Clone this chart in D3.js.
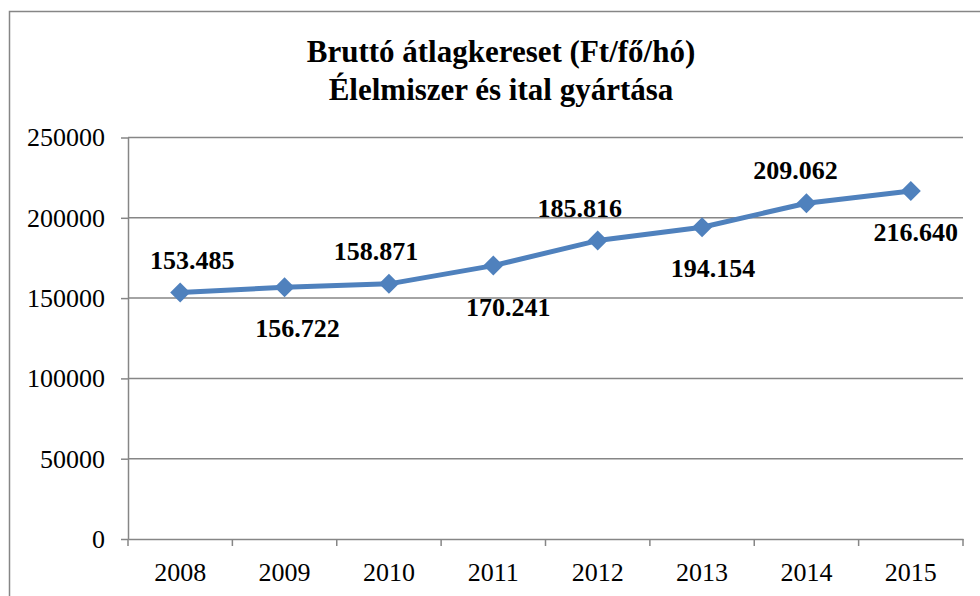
<!DOCTYPE html>
<html>
<head>
<meta charset="utf-8">
<script src="https://cdn.jsdelivr.net/npm/d3@7"></script>
<style>
  body { margin: 0; background: #fff; }
  svg { display: block; font-family: "Liberation Serif", "Times New Roman", serif; }
  .axis path, .axis line { stroke: #868686; stroke-width: 1.5; }
  .axis text { font-size: 26px; fill: #000; font-family: "Liberation Serif", serif; }
</style>
</head>
<body>
<svg width="980" height="596"></svg>
<script>
// chart data
var years = ['2008', '2009', '2010', '2011', '2012', '2013', '2014', '2015'];
var wages = [153485, 156722, 158871, 170241, 185816, 194154, 209062, 216640];
var labelText = ['153.485', '156.722', '158.871', '170.241', '185.816', '194.154', '209.062', '216.640'];
var yTicks = [0, 50000, 100000, 150000, 200000, 250000];
var titleLines = ['Bruttó átlagkereset (Ft/fő/hó)', 'Élelmiszer és ital gyártása'];

// label placement (side of the point and small horizontal nudge)
var labelSide = ['above', 'below', 'above', 'below', 'above', 'below', 'above', 'below'];
var labelNudge = [12, 13, -13, 15, -18, 11, -11, 5];

var svg = d3.select('svg');

// outer chart border
svg.append('rect')
    .attr('x', 9.5)
    .attr('y', 11.5)
    .attr('width', 990)
    .attr('height', 600)
    .attr('fill', 'none')
    .attr('stroke', '#868686')
    .attr('stroke-width', 1.5);

// title
svg.append('g').selectAll('text')
    .data(titleLines)
    .enter().append('text')
    .attr('x', 501)
    .attr('y', function(d, i) { return 62 + i * 38; })
    .attr('text-anchor', 'middle')
    .attr('font-size', 31)
    .attr('font-weight', 'bold')
    .text(function(d) { return d; });

var padding = {t: 137.5, l: 128, r: 963, b: 539};

var xScale = d3.scaleBand()
    .domain(years)
    .range([padding.l, padding.r]);

var yScale = d3.scaleLinear()
    .domain([0, 250000])
    .range([padding.b, padding.t]);

// gridlines
svg.append('g').selectAll('line')
    .data(yTicks.filter(function(t) { return t > 0; }))
    .enter().append('line')
    .attr('x1', padding.l)
    .attr('x2', padding.r)
    .attr('y1', function(d) { return yScale(d); })
    .attr('y2', function(d) { return yScale(d); })
    .attr('stroke', '#868686')
    .attr('stroke-width', 1.5);

// y axis
var yAxisG = svg.append('g')
    .attr('class', 'axis')
    .attr('transform', 'translate(' + [padding.l, 0] + ')')
    .call(d3.axisLeft(yScale)
        .tickValues(yTicks)
        .tickFormat(d3.format('d'))
        .tickSize(7)
        .tickPadding(16)
        .tickSizeOuter(0));

// x axis: ticks sit on category boundaries
var xAxisG = svg.append('g')
    .attr('class', 'axis')
    .attr('transform', 'translate(' + [0, padding.b] + ')')
    .call(d3.axisBottom(xScale).tickSize(0).tickPadding(0).tickSizeOuter(0));
xAxisG.selectAll('.tick text').attr('dy', null).attr('y', 42);
xAxisG.selectAll('.bound')
    .data(d3.range(years.length + 1))
    .enter().append('line')
    .attr('class', 'bound')
    .attr('x1', function(i) { return padding.l + i * xScale.bandwidth(); })
    .attr('x2', function(i) { return padding.l + i * xScale.bandwidth(); })
    .attr('y1', 0)
    .attr('y2', 7);

function px(i) { return xScale(years[i]) + xScale.bandwidth() / 2; }

// line
var line = d3.line()
    .x(function(d, i) { return px(i); })
    .y(function(d) { return yScale(d); });

svg.append('path')
    .datum(wages)
    .attr('d', line)
    .attr('fill', 'none')
    .attr('stroke', '#4F81BD')
    .attr('stroke-width', 5)
    .attr('stroke-linejoin', 'round');

// diamond markers
svg.append('g').selectAll('path')
    .data(wages)
    .enter().append('path')
    .attr('d', 'M0,-10L10,0L0,10L-10,0Z')
    .attr('transform', function(d, i) { return 'translate(' + [px(i), yScale(d)] + ')'; })
    .attr('fill', '#4F81BD');

// data labels
svg.append('g').selectAll('text')
    .data(wages)
    .enter().append('text')
    .attr('x', function(d, i) { return px(i) + labelNudge[i]; })
    .attr('y', function(d, i) { return yScale(d) + (labelSide[i] === 'above' ? -24 : 50); })
    .attr('text-anchor', 'middle')
    .attr('font-size', 26)
    .attr('font-weight', 'bold')
    .text(function(d, i) { return labelText[i]; });
</script>
</body>
</html>
